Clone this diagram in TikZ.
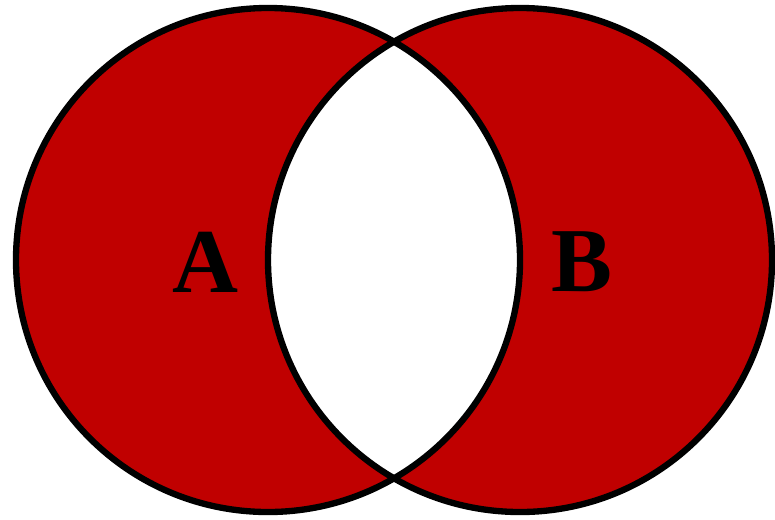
\documentclass[tikz,border=0pt]{standalone}
\usepackage{fontspec}
\setmainfont{Liberation Serif}
\definecolor{setred}{RGB}{192,0,0}

\begin{document}
\begin{tikzpicture}[
  setline/.style={line width=1.8pt, black},
  setlabel/.style={font=\fontsize{26}{30}\selectfont\bfseries, text=black}
]
\useasboundingbox (0,0) rectangle (7.75,5.19);

% Set centres
\coordinate (cA) at (2.68,2.59);
\coordinate (cB) at (5.20,2.59);

% Symmetric difference
\fill[setred, even odd rule] (cA) circle (2.52) (cB) circle (2.52);

% Outlines
\draw[setline] (cA) circle (2.52);
\draw[setline] (cB) circle (2.52);

% Labels
\node[setlabel] (labA) at (2.05,2.57) {A};
\node[setlabel] (labB) at (5.82,2.57) {B};

\end{tikzpicture}
\end{document}
